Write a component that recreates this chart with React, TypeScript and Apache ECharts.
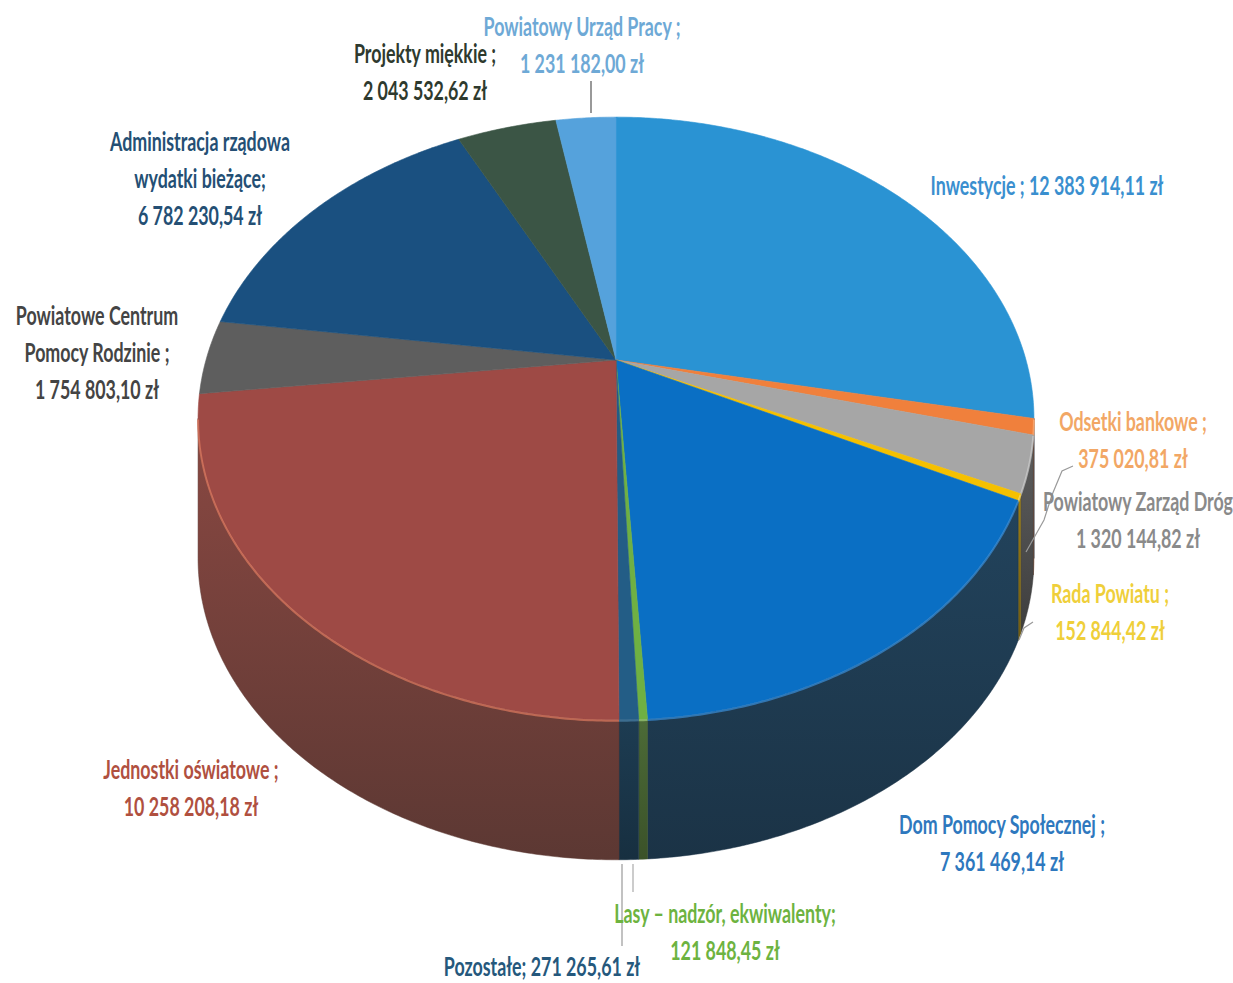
import React, { useEffect, useRef } from "react";
import * as echarts from "echarts";

// ---- data ----
const categories = [
  "Inwestycje",
  "Odsetki bankowe",
  "Powiatowy Zarząd Dróg",
  "Rada Powiatu",
  "Dom Pomocy Społecznej",
  "Lasy – nadzór, ekwiwalenty",
  "Pozostałe",
  "Jednostki oświatowe",
  "Powiatowe Centrum Pomocy Rodzinie",
  "Administracja rządowa wydatki bieżące",
  "Projekty miękkie",
  "Powiatowy Urząd Pracy",
];
const values = [
  12383914.11, 375020.81, 1320144.82, 152844.42, 7361469.14, 121848.45,
  271265.61, 10258208.18, 1754803.1, 6782230.54, 2043532.62, 1231182.0,
];
// label text templates ({v} = formatted value)
const labelTemplates = [
  "Inwestycje ; {v}",
  "Odsetki bankowe ;\n{v}",
  "Powiatowy Zarząd Dróg\n{v}",
  "Rada Powiatu ;\n{v}",
  "Dom Pomocy Społecznej ;\n{v}",
  "Lasy – nadzór, ekwiwalenty;\n{v}",
  "Pozostałe; {v}",
  "Jednostki oświatowe ;\n{v}",
  "Powiatowe Centrum\nPomocy Rodzinie ;\n{v}",
  "Administracja rządowa\nwydatki bieżące;\n{v}",
  "Projekty miękkie ;\n{v}",
  "Powiatowy Urząd Pracy ;\n{v}",
];

// ---- styles / layout ----
const topColors = [
  "#2A93D3", "#F0803C", "#A6A6A6", "#F5C000", "#0A6FC4", "#6FB043",
  "#235D86", "#9E4A45", "#5E5E5E", "#1A5080", "#3B5545", "#55A2DC",
];
const wallTop = [
  "#1E5E86", "#A5532A", "#5E5E5E", "#9E7E10", "#22435C", "#4C6B37",
  "#1D3C52", "#8A4842", "#4A4A4A", "#1A3B5A", "#2F4235", "#3B6D92",
];
const wallBottom = [
  "#163F5C", "#7A3D20", "#3E3E3E", "#6E5A10", "#1B3346", "#3B5229",
  "#172F40", "#5C3833", "#363636", "#142C44", "#233228", "#2B5070",
];
const rimColors = [
  "#5FB2E6", "#FFB07A", "#CFCFCF", "#FFE070", "#3A8ED8", "#9FD07A",
  "#4A82A8", "#DE7A60", "#8A8A8A", "#3E78A8", "#5E7B68", "#8CC2EC",
];
const labelColors = [
  "#3A8FCF", "#F2A765", "#8A8A8A", "#EFCF3A", "#2E78BE", "#6DB340",
  "#25587C", "#B0503F", "#444444", "#244F74", "#2E3A2E", "#6EA9D6",
];
// [centre x, first-line centre y]
const labelPos = [
  [1047, 184], [1133, 420], [1138, 500], [1110, 592], [1002, 823], [725, 912],
  [542, 965], [191, 768], [97, 314], [200, 140], [425, 52], [582, 25],
];

const GEOM = { cx: 616, cy: 360, a: 410, b: 290, p: 0.194, depth: 140 };

function formatPLN(v: number): string {
  const [i, d] = v.toFixed(2).split(".");
  return i.replace(/\B(?=(\d{3})+(?!\d))/g, " ") + "," + d + " zł";
}

function proj(deg: number, drop: number): number[] {
  const r = (deg * Math.PI) / 180;
  const X = Math.sin(r);
  const Z = -Math.cos(r);
  const w = 1 - GEOM.p * Z;
  return [GEOM.cx + (GEOM.a * X) / w, GEOM.cy + (GEOM.b * Z) / w + drop];
}

function sliceAngles(vals: number[]): number[][] {
  const total = vals.reduce((s, v) => s + v, 0);
  let acc = 0;
  return vals.map((v) => {
    const a0 = (acc / total) * 360;
    acc += v;
    return [a0, (acc / total) * 360];
  });
}

function arcPoints(a0: number, a1: number, drop: number): number[][] {
  const n = Math.max(2, Math.ceil((a1 - a0) / 0.5));
  const pts: number[][] = [];
  for (let k = 0; k <= n; k++) pts.push(proj(a0 + ((a1 - a0) * k) / n, drop));
  return pts;
}

export default function App() {
  const ref = useRef<HTMLDivElement>(null);
  useEffect(() => {
    if (!ref.current) return;
    const chart = echarts.init(ref.current, undefined, { renderer: "svg" });
    const angles = sliceAngles(values);
    const edge = (Math.asin(GEOM.p) * 180) / Math.PI;
    const visL = 90 + edge;
    const visR = 270 - edge;

    const wallSeries = {
      type: "custom",
      coordinateSystem: "none",
      z: 1,
      silent: true,
      data: values.map((v, i) => ({ name: categories[i], value: [v] })),
      renderItem: (params: any) => {
        const i = params.dataIndex;
        const s = Math.max(angles[i][0], visL);
        const e = Math.min(angles[i][1], visR);
        if (e <= s) return { type: "group", children: [] };
        const top = arcPoints(s, e, 0);
        const bot = arcPoints(s, e, GEOM.depth).reverse();
        return {
          type: "polygon",
          shape: { points: top.concat(bot) },
          style: {
            fill: new echarts.graphic.LinearGradient(0, 0, 0, 1, [
              { offset: 0, color: wallTop[i] },
              { offset: 1, color: wallBottom[i] },
            ]),
            stroke: wallBottom[i],
            lineWidth: 0.5,
          },
        };
      },
    };

    const topSeries = {
      type: "custom",
      coordinateSystem: "none",
      z: 2,
      silent: true,
      data: values.map((v, i) => ({ name: categories[i], value: [v] })),
      renderItem: (params: any) => {
        const i = params.dataIndex;
        const [a0, a1] = angles[i];
        const pts = [[GEOM.cx, GEOM.cy]].concat(arcPoints(a0, a1, 0));
        const children: any[] = [
          {
            type: "polygon",
            shape: { points: pts },
            style: { fill: topColors[i], stroke: topColors[i], lineWidth: 0.6 },
          },
        ];
        const s = Math.max(a0, visL);
        const e = Math.min(a1, visR);
        if (e > s) {
          children.push({
            type: "polyline",
            shape: { points: arcPoints(s, e, 1) },
            style: { stroke: rimColors[i], lineWidth: 2, opacity: 0.7, fill: null },
          });
        }
        return { type: "group", children };
      },
    };

    const labelFont = "bold 27px Lato";
    const labels = values.map((v, i) => {
      const text = labelTemplates[i].replace("{v}", formatPLN(v));
      return {
        type: "text",
        x: labelPos[i][0],
        y: labelPos[i][1] - 18.5,
        scaleX: 0.66,
        silent: true,
        style: {
          text,
          font: labelFont,
          fill: labelColors[i],
          align: "center",
          verticalAlign: "top",
          lineHeight: 37,
        },
        z: 10,
      };
    });

    const leader = (points: number[][], color = "#8A8A8A") => ({
      type: "polyline",
      silent: true,
      shape: { points },
      style: { stroke: color, lineWidth: 1.2, fill: null },
      z: 5,
    });

    chart.setOption({
      animation: false,
      backgroundColor: "#FFFFFF",
      series: [wallSeries, topSeries],
      graphic: [
        ...labels,
        leader([[591, 81], [591, 113]], "#555555"),
        leader([[622, 864], [622, 946]], "#999999"),
        leader([[633, 864], [633, 892]], "#AAAAAA"),
        leader([[1073, 466], [1062, 471], [1052, 495], [1044, 520], [1026, 552]], "#9A9A9A"),
        leader([[1033, 622], [1024, 628], [1019, 640]], "#9A9A9A"),
      ],
    });
    return () => chart.dispose();
  }, []);

  return (
    <div
      ref={ref}
      style={{ position: "fixed", left: 0, top: 0, width: 1233, height: 983 }}
    />
  );
}
